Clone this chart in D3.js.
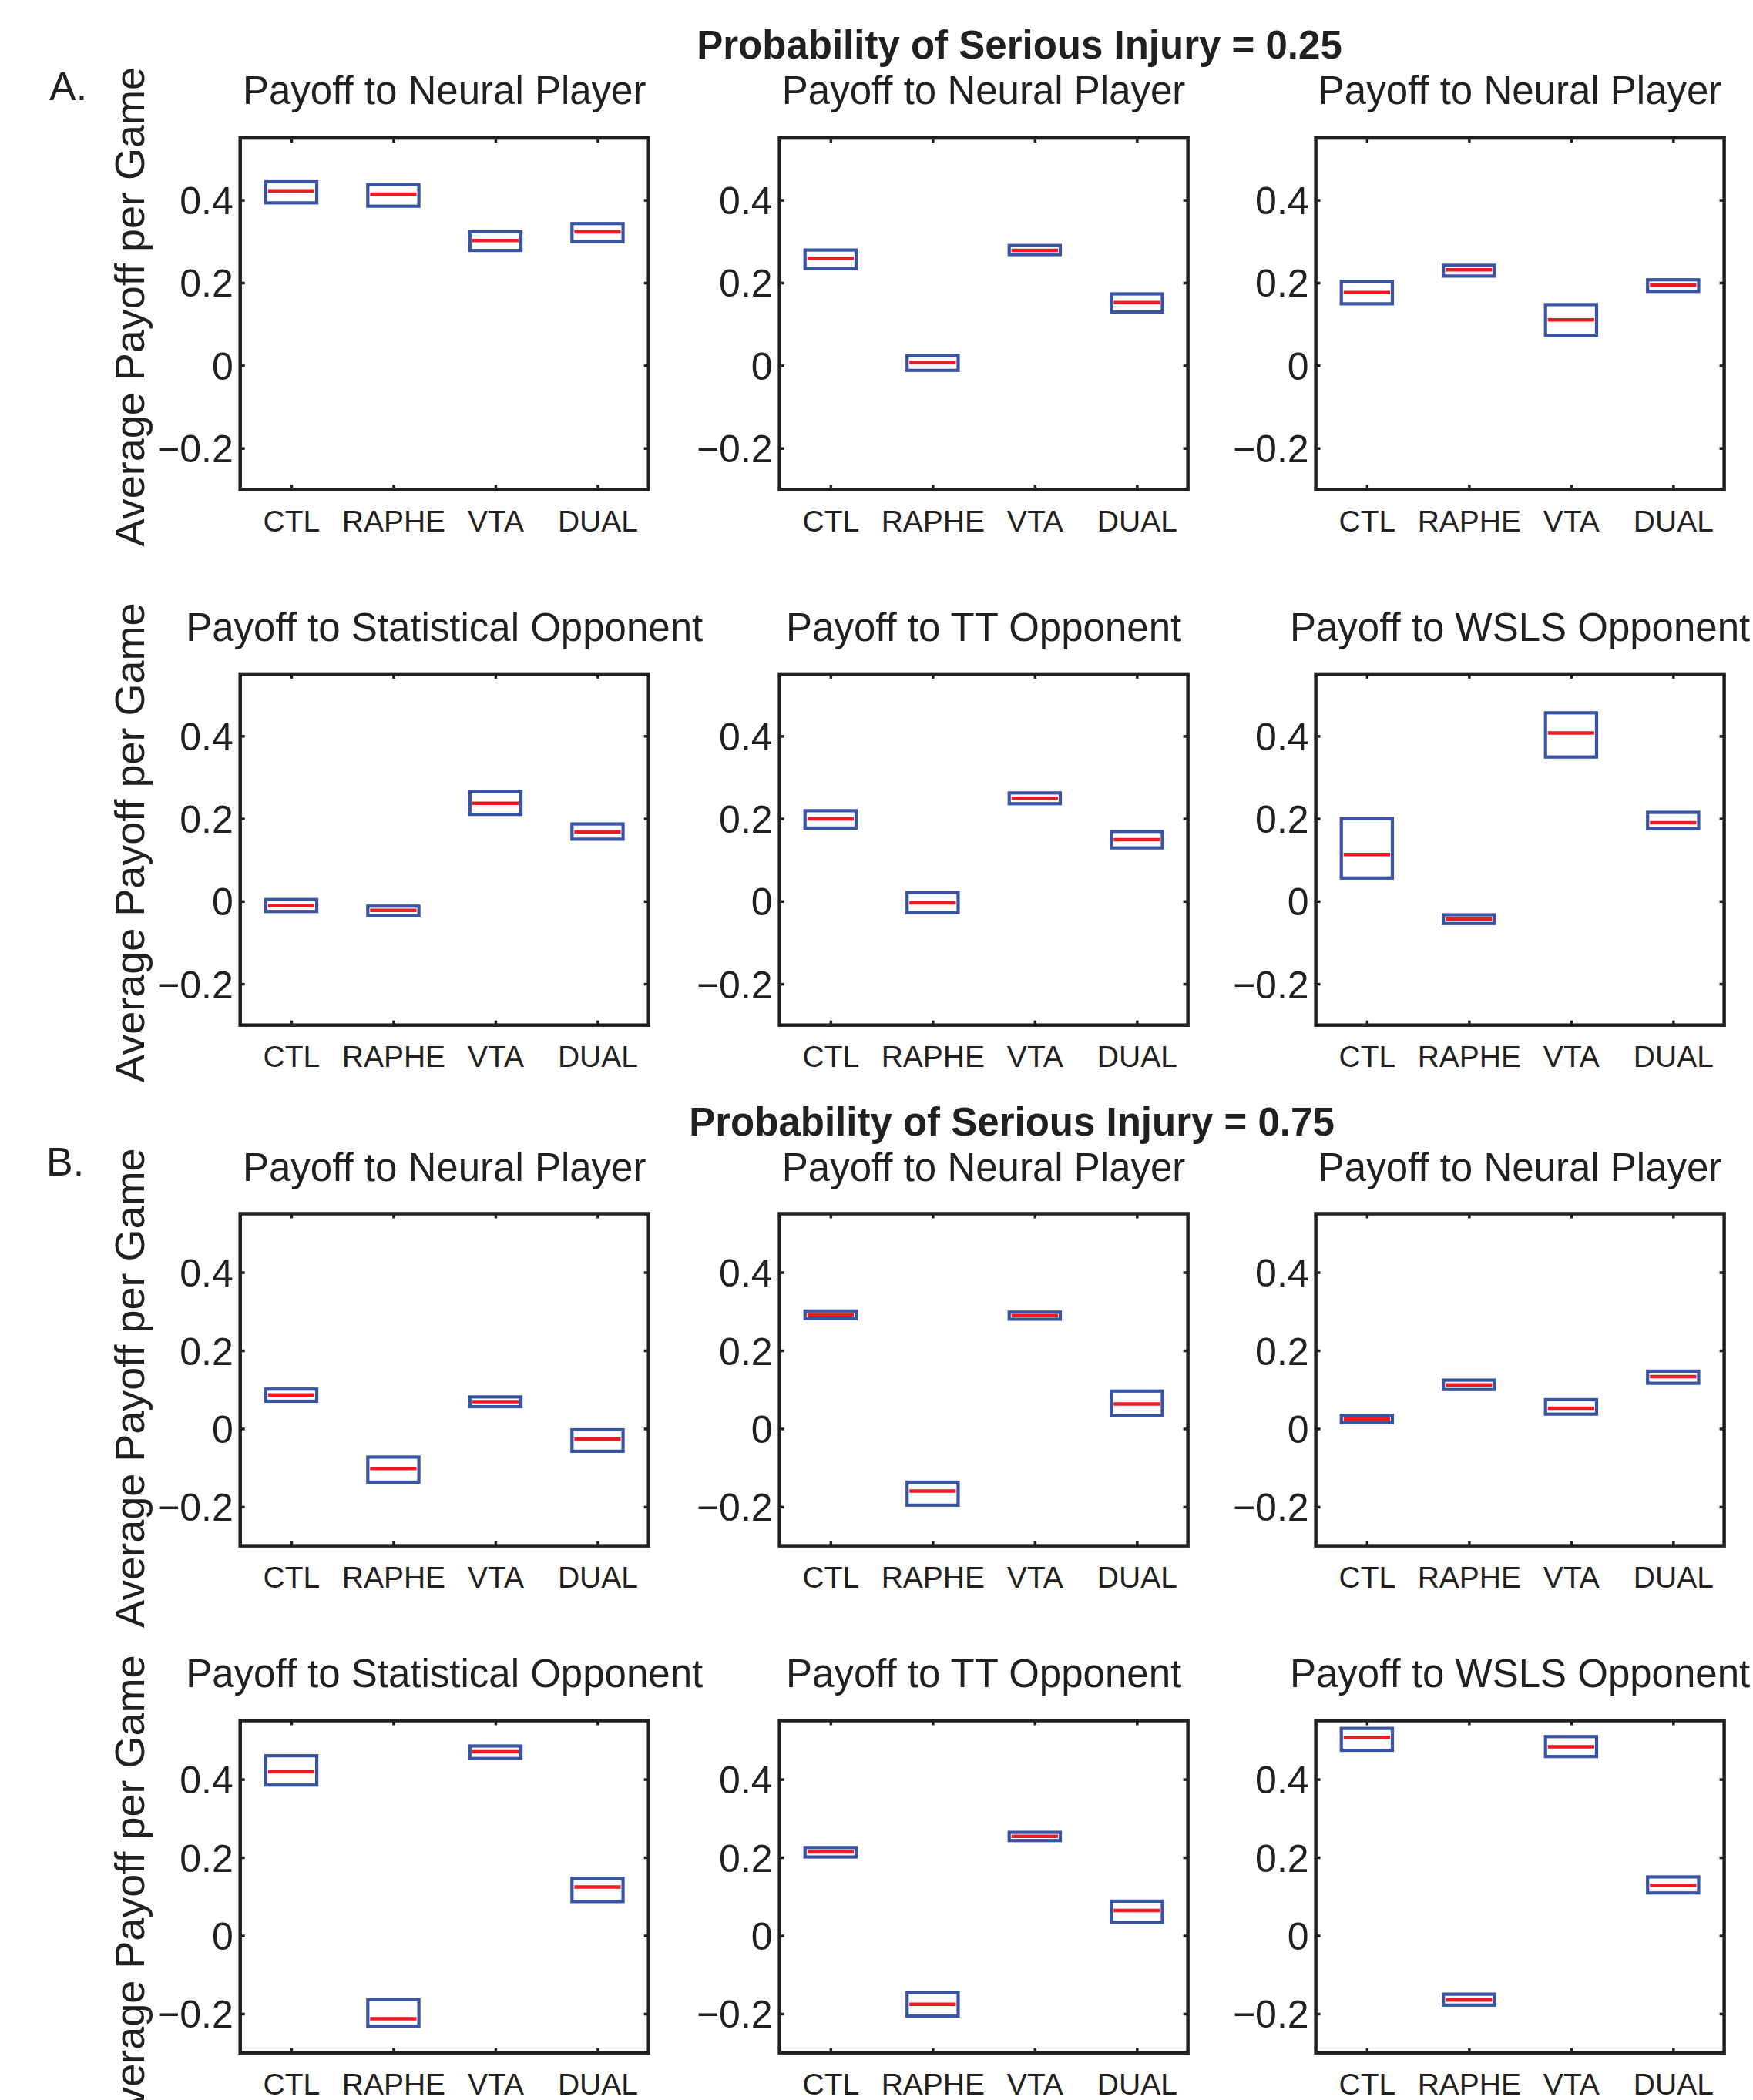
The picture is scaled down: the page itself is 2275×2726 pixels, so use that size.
<!DOCTYPE html>
<html lang="en">
<head>
    <meta charset="UTF-8">
    <title>Payoff box plots</title>
    <script src="https://d3js.org/d3.v7.min.js"></script>
    <style>
        body { margin: 0; background: #fff; }
        text { font-family: "Liberation Sans", Arial, Helvetica, sans-serif; fill: #231f20; }
    </style>
</head>
<body>
<svg id="chart"></svg>
<script type="text/javascript">

    // ---- data: [q1, median, q3] for CTL, RAPHE, VTA, DUAL ----
    var groups = ["CTL", "RAPHE", "VTA", "DUAL"];
    var yTicks = [-0.2, 0, 0.2, 0.4];
    var topTitles = ["Payoff to Neural Player", "Payoff to Neural Player", "Payoff to Neural Player"];
    var bottomTitles = ["Payoff to Statistical Opponent", "Payoff to TT Opponent", "Payoff to WSLS Opponent"];
    var sectionTitles = ["Probability of Serious Injury = 0.25", "Probability of Serious Injury = 0.75"];
    var sectionLetters = ["A.", "B."];

    // injury = 0.25
    var a1 = [[0.393, 0.422, 0.444], [0.385, 0.414, 0.437], [0.278, 0.302, 0.323], [0.299, 0.323, 0.343]];
    var a2 = [[0.234, 0.259, 0.279], [-0.012, 0.007, 0.024], [0.268, 0.278, 0.290], [0.129, 0.152, 0.173]];
    var a3 = [[0.149, 0.176, 0.203], [0.216, 0.231, 0.242], [0.073, 0.110, 0.147], [0.179, 0.194, 0.207]];
    var a4 = [[-0.025, -0.011, 0.004], [-0.035, -0.022, -0.012], [0.210, 0.237, 0.266], [0.150, 0.168, 0.187]];
    var a5 = [[0.177, 0.199, 0.219], [-0.028, -0.004, 0.021], [0.236, 0.249, 0.262], [0.129, 0.149, 0.169]];
    var a6 = [[0.056, 0.113, 0.200], [-0.054, -0.043, -0.033], [0.349, 0.407, 0.456], [0.175, 0.190, 0.215]];
    // injury = 0.75
    var b1 = [[0.070, 0.086, 0.101], [-0.137, -0.102, -0.073], [0.056, 0.069, 0.081], [-0.058, -0.027, -0.003]];
    var b2 = [[0.281, 0.291, 0.301], [-0.196, -0.160, -0.137], [0.280, 0.289, 0.298], [0.033, 0.063, 0.096]];
    var b3 = [[0.015, 0.024, 0.034], [0.100, 0.112, 0.124], [0.037, 0.052, 0.074], [0.116, 0.133, 0.147]];
    var b4 = [[0.385, 0.419, 0.460], [-0.232, -0.213, -0.164], [0.453, 0.470, 0.485], [0.087, 0.124, 0.146]];
    var b5 = [[0.201, 0.214, 0.225], [-0.206, -0.176, -0.146], [0.243, 0.254, 0.264], [0.034, 0.064, 0.088]];
    var b6 = [[0.474, 0.507, 0.530], [-0.178, -0.165, -0.150], [0.458, 0.483, 0.509], [0.109, 0.128, 0.150]];

    // ---- layout ----
    var width = 2275, height = 2726;
    var colX = [311.7, 1011.6, 1707.6];
    var panelW = 530;
    var rows = [
        {top: 179.1,  bottom: 635.4,  titleY: 135.4,  labelEnd: 87},
        {top: 874.9,  bottom: 1330.7, titleY: 831.6,  labelEnd: 782.5},
        {top: 1575.5, bottom: 2006.6, titleY: 1532.8, labelEnd: 1490.5},
        {top: 2233.5, bottom: 2664.7, titleY: 2190,   labelEnd: 2148.5}
    ];
    var sections = [
        {x: 1323, y: 76,     letterX: 64, letterY: 129.5},
        {x: 1313, y: 1474,   letterX: 60, letterY: 1525.7}
    ];

    var blue = "#3a54a4", red = "#ed1c24", ink = "#231f20";

    var svg = d3.select("#chart")
        .attr("width", width)
        .attr("height", height);

    svg.append("rect").attr("width", width).attr("height", height).attr("fill", "#fff");

    var panels = [
        {row: 0, col: 0, title: topTitles[0], data: a1},
        {row: 0, col: 1, title: topTitles[1], data: a2},
        {row: 0, col: 2, title: topTitles[2], data: a3},
        {row: 1, col: 0, title: bottomTitles[0], data: a4},
        {row: 1, col: 1, title: bottomTitles[1], data: a5},
        {row: 1, col: 2, title: bottomTitles[2], data: a6},
        {row: 2, col: 0, title: topTitles[0], data: b1},
        {row: 2, col: 1, title: topTitles[1], data: b2},
        {row: 2, col: 2, title: topTitles[2], data: b3},
        {row: 3, col: 0, title: bottomTitles[0], data: b4},
        {row: 3, col: 1, title: bottomTitles[1], data: b5},
        {row: 3, col: 2, title: bottomTitles[2], data: b6}
    ];

    var tickFmt = function(d) { return d === 0 ? "0" : d3.format(".1f")(d); };

    // section headers
    sections.forEach(function(s, i) {
        svg.append("text")
            .attr("x", s.x).attr("y", s.y)
            .attr("text-anchor", "middle")
            .style("font-size", "51px")
            .style("font-weight", "bold")
            .text(sectionTitles[i]);
        svg.append("text")
            .attr("x", s.letterX).attr("y", s.letterY)
            .style("font-size", "52px")
            .text(sectionLetters[i]);
    });

    // y labels, one per row
    rows.forEach(function(r) {
        svg.append("text")
            .attr("transform", "translate(187," + r.labelEnd + ") rotate(-90)")
            .attr("text-anchor", "end")
            .style("font-size", "54px")
            .text("Average Payoff per Game");
    });

    panels.forEach(function(p) {
        var r = rows[p.row];
        var x0 = colX[p.col];
        var h = r.bottom - r.top;

        var x = d3.scaleLinear().domain([0.5, 4.5]).range([0, panelW]);
        var y = d3.scaleLinear().domain([-0.3, 0.55]).range([h, 0]);
        var half = x(1.25) - x(1);

        var g = svg.append("g").attr("transform", "translate(" + x0 + "," + r.top + ")");

        // title
        g.append("text")
            .attr("x", panelW / 2)
            .attr("y", r.titleY - r.top)
            .attr("text-anchor", "middle")
            .style("font-size", "51px")
            .text(p.title);

        // boxes
        var box = g.selectAll("g.box")
            .data(p.data)
            .enter().append("g").attr("class", "box");

        box.append("rect")
            .attr("x", function(d, i) { return x(i + 1) - half; })
            .attr("width", 2 * half)
            .attr("y", function(d) { return y(d[2]); })
            .attr("height", function(d) { return y(d[0]) - y(d[2]); })
            .attr("fill", "none")
            .attr("stroke", blue)
            .attr("stroke-width", 4.2);

        box.append("line")
            .attr("x1", function(d, i) { return x(i + 1) - half + 3; })
            .attr("x2", function(d, i) { return x(i + 1) + half - 3; })
            .attr("y1", function(d) { return y(d[1]); })
            .attr("y2", function(d) { return y(d[1]); })
            .attr("stroke", red)
            .attr("stroke-width", 4.5);

        // axes (ticks point inward)
        var left = g.append("g")
            .call(d3.axisLeft(y).tickValues(yTicks).tickSize(-6).tickPadding(9).tickFormat(tickFmt));
        var right = g.append("g").attr("transform", "translate(" + panelW + ",0)")
            .call(d3.axisRight(y).tickValues(yTicks).tickSize(-6).tickFormat(""));
        var top = g.append("g")
            .call(d3.axisTop(x).tickValues([1, 2, 3, 4]).tickSize(-6).tickFormat(""));
        var bottom = g.append("g").attr("transform", "translate(0," + h + ")")
            .call(d3.axisBottom(x).tickValues([1, 2, 3, 4]).tickSize(-6).tickPadding(27)
                .tickFormat(function(d) { return groups[d - 1]; }));

        [left, right, top, bottom].forEach(function(a) {
            a.select(".domain").remove();
            a.selectAll(".tick line").attr("stroke", ink).attr("stroke-width", 3.5);
            a.attr("font-family", null).attr("font-size", null);
        });
        left.selectAll(".tick text").style("font-size", "50px").attr("dy", "0.36em");
        bottom.selectAll(".tick text").style("font-size", "39px");

        // frame
        g.append("rect")
            .attr("width", panelW)
            .attr("height", h)
            .attr("fill", "none")
            .attr("stroke", ink)
            .attr("stroke-width", 4.5);
    });

</script>
</body>
</html>
